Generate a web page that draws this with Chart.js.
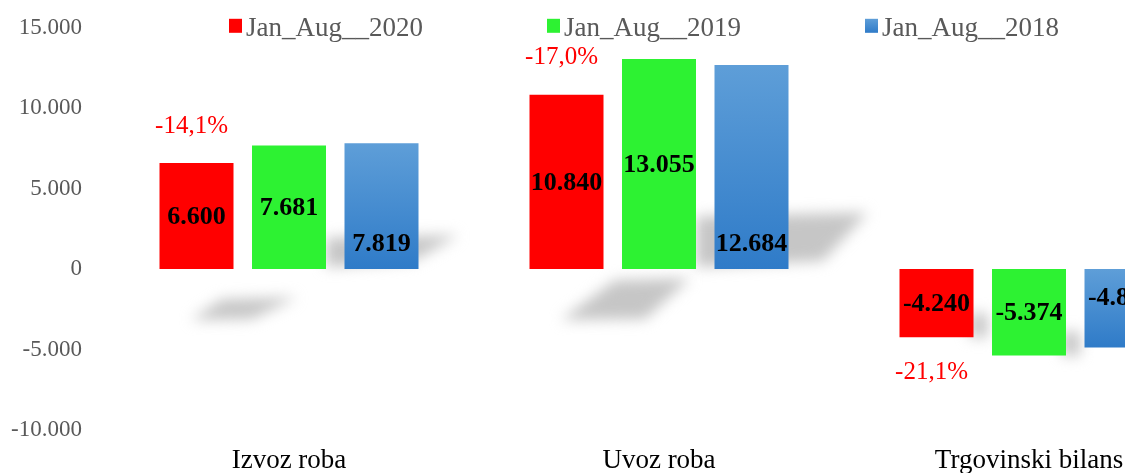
<!DOCTYPE html>
<html><head><meta charset="utf-8">
<script src="https://cdn.jsdelivr.net/npm/chart.js@4.4.1/dist/chart.umd.min.js"></script>
<style>
html,body{margin:0;padding:0;overflow:hidden;background:#fff;width:1125px;height:473px}
#wrap{position:absolute;left:0;top:-8px;width:1232px;height:481px}
</style></head><body>
<div id="wrap"><canvas id="c"></canvas></div>
<script>
const categories = ['Izvoz roba', 'Uvoz roba', 'Trgovinski bilans'];
const seriesLabels = ['Jan_Aug__2020', 'Jan_Aug__2019', 'Jan_Aug__2018'];
const values2020 = [6600, 10840, -4240];
const values2019 = [7681, 13055, -5374];
const values2018 = [7819, 12684, -4865];
const changeLabels = ['-14,1%', '-17,0%', '-21,1%'];
const yTicks = [-10000, -5000, 0, 5000, 10000, 15000];

const RED = '#FF0000', GREEN = '#2DF232', BLUE_TOP = '#5E9ED8', BLUE_BOT = '#2F7BC8';
const SERIF = "'Liberation Serif', 'Times New Roman', serif";

function fmt(v) {
  const s = Math.abs(Math.round(v)).toString().replace(/\B(?=(\d{3})+(?!\d))/g, '.');
  return (v < 0 ? '-' : '') + s;
}

function blueFill(ctx) {
  const chart = ctx.chart;
  const y = chart.scales && chart.scales.y;
  if (!chart.chartArea || !y || ctx.type !== 'data') return BLUE_TOP;
  const p0 = y.getPixelForValue(0), p1 = y.getPixelForValue(ctx.raw);
  const top = Math.min(p0, p1), bot = Math.max(p0, p1);
  if (!isFinite(top) || !isFinite(bot) || bot - top < 1) return BLUE_TOP;
  const g = chart.ctx.createLinearGradient(0, top, 0, bot);
  g.addColorStop(0, BLUE_TOP);
  g.addColorStop(1, BLUE_BOT);
  return g;
}

const shadowPlugin = {
  id: 'shadows',
  beforeDatasetsDraw(chart) {
    const ctx = chart.ctx;
    const y0 = chart.scales.y.getPixelForValue(0);
    const metas = [0, 1, 2].map(i => chart.getDatasetMeta(i));
    ctx.save();
    ctx.filter = 'blur(7px)';
    ctx.fillStyle = '#c6c6c6';
    categories.forEach((c, i) => {
      const els = metas.map(m => m.data[i]);
      const cx = chart.scales.x.getPixelForValue(i);
      const vals = [values2020[i], values2019[i], values2018[i]];
      if (vals[0] >= 0) {
        const h = Math.max(...els.map(e => Math.abs(e.base - e.y)));
        const rx = 110 + 0.47 * h;
        ctx.beginPath();
        ctx.moveTo(cx + 37, y0 - 0.25 * h);
        ctx.lineTo(cx + rx, y0 - 0.27 * h);
        ctx.lineTo(cx + rx - 45, y0 - 8);
        ctx.lineTo(cx + 37, y0 - 2);
        ctx.closePath();
        ctx.fill();
        const ty = 54.5 - 0.226 * h;
        const trx = -26.5 + 0.274 * h;
        ctx.beginPath();
        ctx.moveTo(cx + trx - 75, y0 + ty + 4);
        ctx.lineTo(cx + trx, y0 + ty + 2);
        ctx.lineTo(cx + trx - 45, y0 + 50);
        ctx.lineTo(cx - 98, y0 + 51);
        ctx.closePath();
        ctx.fill();
      } else {
        els.forEach(e => {
          const r = e.x + e.width / 2;
          const b = Math.max(e.y, e.base);
          ctx.fillRect(r - 4, b - 24, 18, 24);
        });
      }
    });
    ctx.restore();
  }
};

const labelPlugin = {
  id: 'valueLabels',
  afterDatasetsDraw(chart) {
    const ctx = chart.ctx;
    ctx.save();
    ctx.textAlign = 'center';
    ctx.textBaseline = 'middle';
    chart.data.datasets.forEach((ds, di) => {
      const meta = chart.getDatasetMeta(di);
      meta.data.forEach((el, i) => {
        const v = ds.data[i];
        let ty;
        if (di === 2) ty = el.base + (v >= 0 ? -26 : 28);
        else ty = (el.y + el.base) / 2;
        ctx.font = 'bold 26px ' + SERIF;
        ctx.fillStyle = '#000';
        ctx.fillText(fmt(v), el.x, ty + 1);
        if (di === 0) {
          ctx.font = '25px ' + SERIF;
          ctx.fillStyle = '#FF0000';
          const py = v >= 0 ? el.y - 37 : el.y + 35;
          ctx.fillText(changeLabels[i], el.x - 5, py);
        }
      });
    });
    ctx.restore();
  }
};

const legendPlugin = {
  id: 'customLegend',
  afterDraw(chart) {
    const ctx = chart.ctx;
    const top = chart.chartArea.top;
    const xs = [229, 547, 865];
    const fills = [RED, GREEN, null];
    ctx.save();
    ctx.font = '27px ' + SERIF;
    ctx.textBaseline = 'middle';
    ctx.textAlign = 'left';
    seriesLabels.forEach((lab, i) => {
      const x = xs[i];
      let f = fills[i];
      if (!f) {
        f = ctx.createLinearGradient(0, top - 9, 0, top + 5);
        f.addColorStop(0, BLUE_TOP);
        f.addColorStop(1, BLUE_BOT);
      }
      ctx.fillStyle = f;
      ctx.fillRect(x, top - 9, 13, 14);
      ctx.fillStyle = '#595959';
      ctx.fillText(lab, x + 17, top + 1);
    });
    ctx.restore();
  }
};

new Chart(document.getElementById('c'), {
  type: 'bar',
  data: {
    labels: categories,
    datasets: [
      { label: seriesLabels[0], data: values2020, backgroundColor: RED },
      { label: seriesLabels[1], data: values2019, backgroundColor: GREEN },
      { label: seriesLabels[2], data: values2018, backgroundColor: blueFill }
    ]
  },
  options: {
    responsive: true,
    maintainAspectRatio: false,
    animation: false,
    devicePixelRatio: 1,
    categoryPercentage: 0.75,
    barPercentage: 0.8,
    layout: { padding: { top: 10, right: 18, left: 0, bottom: 0 } },
    plugins: { legend: { display: false }, tooltip: { enabled: false } },
    scales: {
      x: {
        grid: { display: false, drawTicks: false },
        border: { display: false },
        ticks: { color: '#000', font: { family: SERIF, size: 27 }, padding: 15 },
        afterFit(s) { s.height = 43; }
      },
      y: {
        min: yTicks[0],
        max: yTicks[yTicks.length - 1],
        grid: { display: false, drawTicks: false },
        border: { display: false },
        ticks: {
          stepSize: yTicks[1] - yTicks[0],
          color: '#595959',
          font: { family: SERIF, size: 23 },
          padding: 22,
          callback: v => fmt(v)
        },
        afterFit(s) { s.width = 104; }
      }
    }
  },
  plugins: [shadowPlugin, labelPlugin, legendPlugin]
});
</script>
</body></html>
